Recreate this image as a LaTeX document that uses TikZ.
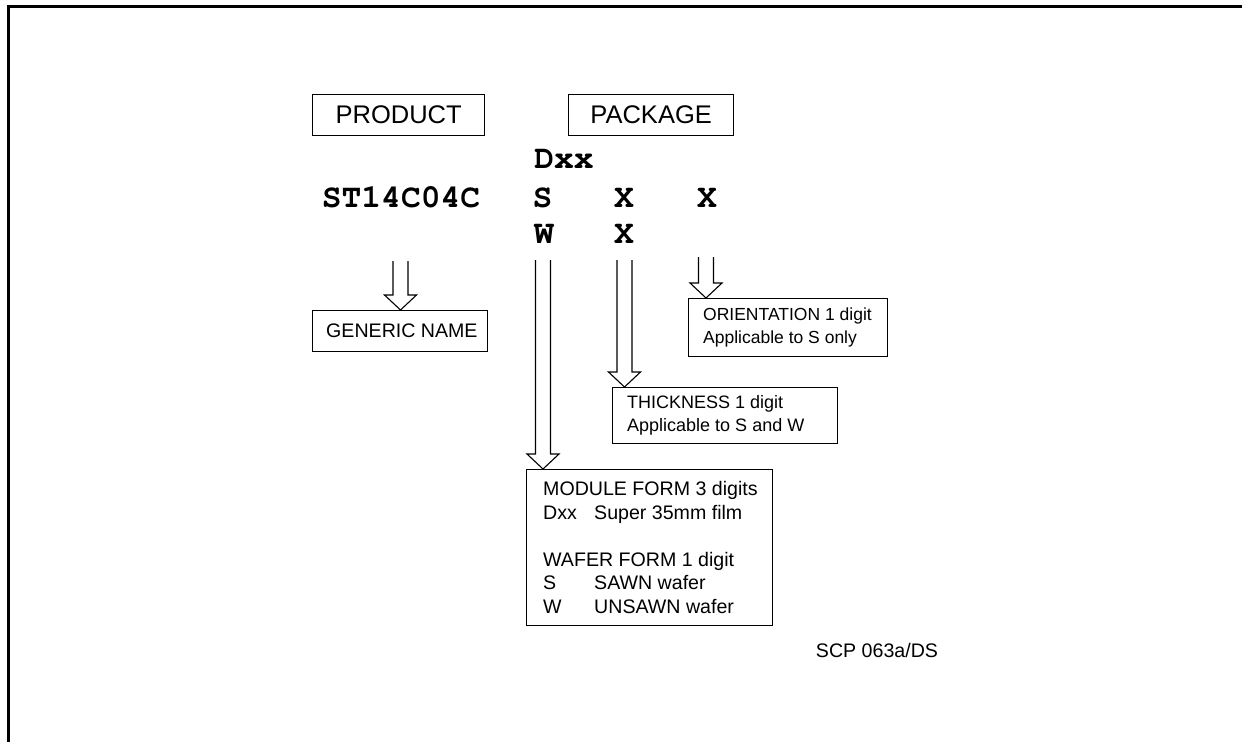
\documentclass[tikz,border=0pt]{standalone}
\usepackage[T1]{fontenc}
\usepackage{fontspec}
\setmainfont{Liberation Sans}
\newcommand{\codefont}{\usefont{T1}{pcr}{b}{n}}
\usetikzlibrary{calc}
\tikzset{
  titlebox/.style={draw,line width=1.3pt,font=\fontsize{25.5}{30}\selectfont,anchor=north west,minimum height=41pt,inner sep=0pt},
  infobox/.style={draw,line width=1.3pt,anchor=north west,inner sep=0pt},
  boxtext/.style={anchor=west,xshift=#1,align=left,inner sep=0pt},
  boxtext/.default=15pt,
  code/.style={font=\codefont\fontsize{33}{36}\selectfont,anchor=base,inner sep=0pt},
  shaft/.style={line width=1.1pt}
}
\newcommand{\hollowdown}[2]{%
  \draw[shaft] ($(#1)+(-7.5,0)$) -- ($(#1 |- #2.north)+(-7.5,-15)$) -- ($(#1 |- #2.north)+(-16,-15)$) -- (#1 |- #2.north)
    -- ($(#1 |- #2.north)+(16,-15)$) -- ($(#1 |- #2.north)+(7.5,-15)$) -- ($(#1)+(7.5,0)$);}
\begin{document}
\begin{tikzpicture}[x=1pt,y=-1pt]
 \useasboundingbox (0,0) rectangle (1242,742);
 \draw[line width=2.6pt] (8.7,742) -- (8.7,6.2) -- (1242,6.2);
 \node[titlebox,minimum width=172pt] (product) at (312,94) {PRODUCT};
 \node[titlebox,minimum width=165pt] (package) at (568,94) {PACKAGE};
 \node[code] (prodcode) at (401,207) {ST14C04C};
 \node[code] (dxx) at (564,168) {Dxx};
 \node[code] (sawn) at (542.5,207) {S};
 \node[code] (thicks) at (624,207) {X};
 \node[code] (orient) at (707,207) {X};
 \node[code] (unsawn) at (544,243) {W};
 \node[code] (thickw) at (624,243) {X};
 \node[infobox,minimum width=175pt,minimum height=41pt,
   label={[boxtext=14pt,font=\fontsize{19.6}{23.5}\selectfont]west:GENERIC NAME}] (generic) at (312,310) {};
 \node[infobox,minimum width=199pt,minimum height=58pt,
   label={[boxtext,font=\fontsize{17.5}{23}\selectfont]west:ORIENTATION 1 digit\\Applicable to S only}] (orientbox) at (688,298) {};
 \node[infobox,minimum width=225pt,minimum height=56pt,
   label={[boxtext,font=\fontsize{18}{23}\selectfont]west:THICKNESS 1 digit\\Applicable to S and W}] (thickbox) at (612,387) {};
 \node[infobox,minimum width=246pt,minimum height=156pt,
   label={[boxtext=17pt,font=\fontsize{19.6}{23.5}\selectfont]west:MODULE FORM 3 digits\\\makebox[51pt][l]{Dxx}Super 35mm film\\[23.5pt]WAFER FORM 1 digit\\
    \makebox[51pt][l]{S}SAWN wafer\\\makebox[51pt][l]{W}UNSAWN wafer}] (formbox) at (526,469) {};
 \node[font=\fontsize{19.6}{23.5}\selectfont] (ref) at (877,650) {SCP 063a/DS};
 \coordinate (gtop) at (400.5,261);
 \coordinate (mtop) at (543,260);
 \coordinate (ttop) at (624.5,260);
 \coordinate (otop) at (706,257);
 \hollowdown{gtop}{generic}
 \hollowdown{mtop}{formbox}
 \hollowdown{ttop}{thickbox}
 \hollowdown{otop}{orientbox}
\end{tikzpicture}
\end{document}
